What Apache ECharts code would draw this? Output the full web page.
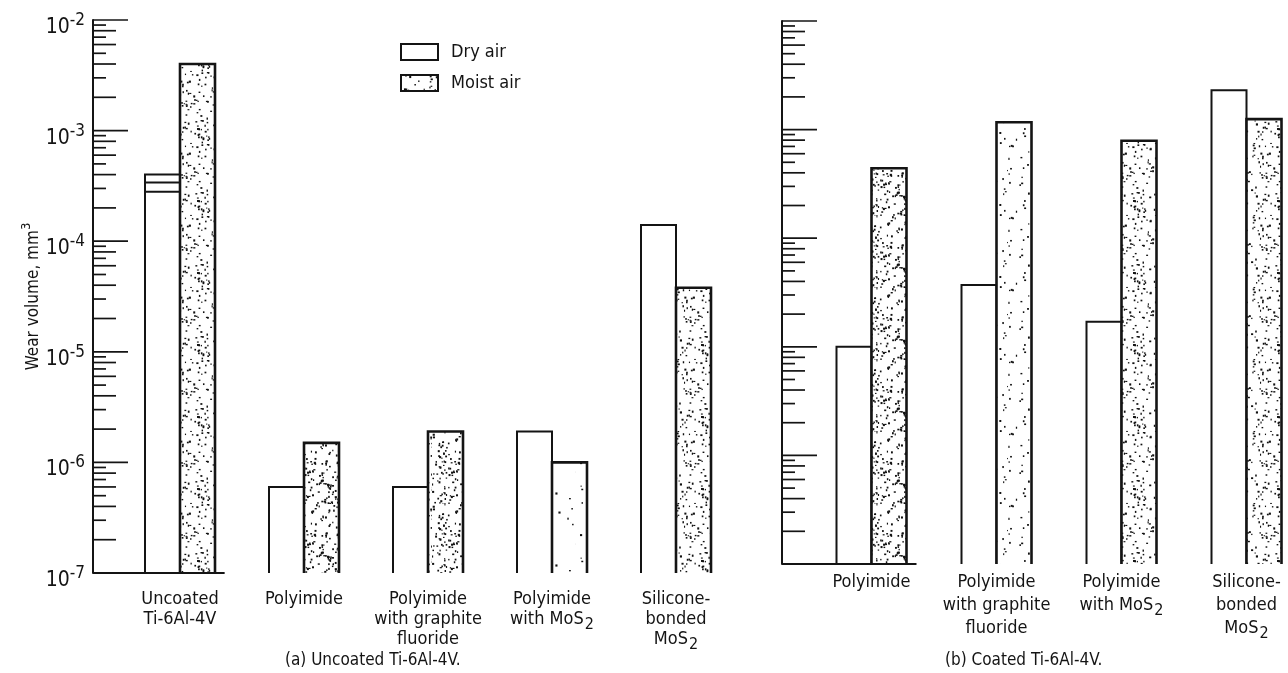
<!DOCTYPE html>
<html>
<head>
<meta charset="utf-8">
<title>Wear volume of Ti-6Al-4V pins</title>
<script src="https://cdn.jsdelivr.net/npm/echarts@6/dist/echarts.min.js"></script>
<style>
  html, body { margin: 0; padding: 0; background: #fff; }
  #chart { width: 1288px; height: 673px; }
</style>
</head>
<body>
<div id="chart"></div>
<script>
// ---- data -------------------------------------------------------------
// (a) uncoated Ti-6Al-4V discs
const categoriesA = ['Uncoated\nTi-6Al-4V', 'Polyimide', 'Polyimide\nwith graphite\nfluoride', 'Polyimide\nwith MoS2', 'Silicone-\nbonded\nMoS2'];
const dryA   = [4.0e-4, 6.0e-7, 6.0e-7, 1.9e-6, 1.4e-4];
const moistA = [4.0e-3, 1.5e-6, 1.9e-6, 1.0e-6, 3.8e-5];
// repeat runs in dry air on uncoated Ti-6Al-4V (category index, wear volume)
const dryRepeatsA = [[0, 3.4e-4], [0, 2.8e-4]];

// (b) coated Ti-6Al-4V discs
const categoriesB = ['Polyimide', 'Polyimide\nwith graphite\nfluoride', 'Polyimide\nwith MoS2', 'Silicone-\nbonded\nMoS2'];
const dryB   = [1.0e-5, 3.7e-5, 1.7e-5, 2.3e-3];
const moistB = [4.4e-4, 1.17e-3, 7.9e-4, 1.25e-3];

// axis range and the mantissas that carry a tick in each decade
const AXIS_MIN = 1e-7;
const AXIS_MAX = 1e-2;
const decadeExponents = [-7, -6, -5, -4, -3, -2];
const tickMantissas = [1, 2, 3, 4, 5, 6, 7, 8, 9];

// ---- styling helpers ---------------------------------------------------
const FONT = "'Liberation Sans Narrow', 'DejaVu Sans Condensed', 'Roboto Condensed', sans-serif";
const INK = '#141414';
const BAR_W = 35;

function mulberry32(a) {
  return function () {
    a |= 0; a = a + 0x6D2B79F5 | 0;
    let t = Math.imul(a ^ a >>> 15, 1 | a);
    t = t + Math.imul(t ^ t >>> 7, 61 | t) ^ t;
    return ((t ^ t >>> 14) >>> 0) / 4294967296;
  };
}

// stippled fill used for the moist-air bars
function stipple(count, seed) {
  const size = 72;
  const c = document.createElement('canvas');
  c.width = c.height = size;
  const g = c.getContext('2d');
  g.fillStyle = '#fff';
  g.fillRect(0, 0, size, size);
  g.fillStyle = '#111';
  const rnd = mulberry32(seed);
  for (let i = 0; i < count; i++) {
    const x = rnd() * size, y = rnd() * size;
    const w = 1.1 + rnd() * 1.1, h = 1.1 + rnd() * 1.1;
    g.fillRect(x, y, w, h);
  }
  return { image: c, repeat: 'repeat' };
}
const STIPPLE = {
  dense: stipple(240, 7),
  medium: stipple(150, 19),
  sparse: stipple(60, 31),
  thin: stipple(30, 43)
};
const moistTextureA = ['medium', 'dense', 'dense', 'thin', 'medium'];
const moistTextureB = ['dense', 'sparse', 'medium', 'medium'];

// tick values on the log axis (the minimum is drawn as the base line)
const tickValues = [];
decadeExponents.forEach(function (e) {
  if (e === -2) { tickValues.push([0, Math.pow(10, e)]); return; }
  tickMantissas.forEach(function (m) {
    if (e === -7 && m === 1) return;
    tickValues.push([0, m * Math.pow(10, e)]);
  });
});

// tick marks: long at decades, alternating lengths in between
function tickRenderer(axisGap) {
  return function (params, api) {
    const v = api.value(1);
    const cs = params.coordSys;
    const x0 = cs.x - axisGap;
    const y = api.coord([0, v])[1];
    const e = Math.floor(Math.log10(v) + 1e-9);
    const m = Math.round(v / Math.pow(10, e));
    const len = (m === 1 || m === 10) ? 35 : (m % 2 === 0 ? 23 : 13);
    return {
      type: 'line',
      shape: { x1: x0, y1: y, x2: x0 + len, y2: y },
      style: { stroke: INK, lineWidth: 1.7 }
    };
  };
}

// base line: runs from the axis to just past the first pair of bars
function baseRenderer(axisGap) {
  return function (params, api) {
    const cs = params.coordSys;
    const p = api.coord([0, api.value(1)]);
    const band = api.size([1, 0])[0];
    return {
      type: 'line',
      shape: { x1: cs.x - axisGap, y1: p[1], x2: p[0] + band * 0.36, y2: p[1] },
      style: { stroke: INK, lineWidth: 1.8 }
    };
  };
}

// open-bottomed bar rising from the axis minimum; side -1 = left of centre
function barRenderer(side, fills, borderWidth) {
  return function (params, api) {
    const i = api.value(0);
    const top = api.coord([i, api.value(1)]);
    const base = api.coord([i, AXIS_MIN]);
    const x = side < 0 ? top[0] - BAR_W : top[0];
    const fill = fills ? fills[params.dataIndex] : '#fff';
    return {
      type: 'group',
      children: [
        { type: 'rect', shape: { x: x, y: top[1], width: BAR_W, height: base[1] - top[1] },
          style: { fill: fill, stroke: null } },
        { type: 'polyline',
          shape: { points: [[x, base[1]], [x, top[1]], [x + BAR_W, top[1]], [x + BAR_W, base[1]]] },
          style: { fill: null, stroke: INK, lineWidth: borderWidth } }
      ]
    };
  };
}

// short horizontal strokes across the dry-air bar for repeat runs
function repeatRenderer(params, api) {
  const p = api.coord([api.value(0), api.value(1)]);
  return {
    type: 'line',
    shape: { x1: p[0] - BAR_W, y1: p[1], x2: p[0], y2: p[1] },
    style: { stroke: INK, lineWidth: 2 }
  };
}

function catLabel(name) {
  return name.split('\n').map(function (line) {
    const m = line.match(/^(.*MoS)2$/);
    return m ? '{t|' + m[1] + '}{sub|2}' : '{t|' + line + '}';
  }).join('\n');
}

function catAxis(gridIndex, data, margin, lineH) {
  return {
    type: 'category', gridIndex: gridIndex, data: data,
    axisLine: { show: false }, axisTick: { show: false }, splitLine: { show: false },
    axisLabel: {
      interval: 0, margin: margin, formatter: catLabel, color: INK,
      rich: {
        t: { fontFamily: FONT, fontSize: 18, lineHeight: lineH, verticalAlign: 'top', color: INK },
        sub: { fontFamily: FONT, fontSize: 16, lineHeight: lineH, padding: [7, 0, 0, 1], verticalAlign: 'top', color: INK }
      }
    }
  };
}

function logAxis(gridIndex, offset, withLabels) {
  const ax = {
    type: 'log', logBase: 10, gridIndex: gridIndex, min: AXIS_MIN, max: AXIS_MAX,
    offset: offset,
    axisLine: { show: true, lineStyle: { color: INK, width: 2 } },
    axisTick: { show: false }, minorTick: { show: false },
    splitLine: { show: false }, minorSplitLine: { show: false },
    axisLabel: { show: false }
  };
  if (withLabels) {
    ax.axisLabel = {
      show: true, margin: 8, color: INK,
      formatter: function (v) {
        const e = Math.round(Math.log10(v));
        return '{b|10}{s|' + e + '}';
      },
      rich: {
        b: { fontFamily: FONT, fontSize: 21, lineHeight: 22, padding: [8, 0, 0, 0], verticalAlign: 'top', color: INK },
        s: { fontFamily: FONT, fontSize: 17, lineHeight: 18, padding: [3, 0, 0, 0], verticalAlign: 'top', color: INK }
      }
    };
    ax.name = '{n|Wear volume, mm}{s|3}';
    ax.nameLocation = 'middle';
    ax.nameGap = 50;
    ax.nameTextStyle = {
      rich: {
        n: { fontFamily: FONT, fontSize: 17, lineHeight: 22, verticalAlign: 'bottom', color: INK },
        s: { fontFamily: FONT, fontSize: 13, lineHeight: 22, verticalAlign: 'top', color: INK }
      }
    };
  }
  return ax;
}

function pairs(values) {
  return values.map(function (v, i) { return [i, v]; });
}
function textures(names) {
  return names.map(function (n) { return STIPPLE[n]; });
}

function barSeries(name, gridIndex, values, side, fills, borderWidth) {
  return {
    name: name, type: 'custom', xAxisIndex: gridIndex, yAxisIndex: gridIndex,
    data: pairs(values), encode: { x: 0, y: 1 },
    itemStyle: fills ? { color: STIPPLE.medium, borderColor: INK, borderWidth: 2 }
                     : { color: '#fff', borderColor: INK, borderWidth: 2 },
    renderItem: barRenderer(side, fills, borderWidth), clip: false
  };
}

const option = {
  animation: false,
  backgroundColor: '#fff',
  textStyle: { fontFamily: FONT, color: INK },
  legend: {
    data: ['Dry air', 'Moist air'],
    orient: 'vertical', left: 400, top: 43, padding: 0,
    itemWidth: 37, itemHeight: 16, itemGap: 13, icon: 'rect',
    selectedMode: false,
    itemStyle: { borderColor: INK, borderWidth: 2 },
    textStyle: { fontFamily: FONT, fontSize: 18, color: INK, padding: [0, 0, 0, 8] }
  },
  grid: [
    { left: 118, top: 20, width: 620, height: 553, outerBoundsMode: 'none', containLabel: false },
    { left: 809, top: 21, width: 500, height: 543, outerBoundsMode: 'none', containLabel: false }
  ],
  xAxis: [catAxis(0, categoriesA, 17, 20), catAxis(1, categoriesB, 9, 23)],
  yAxis: [logAxis(0, 25, true), logAxis(1, 27, false)],
  graphic: [
    { type: 'text', left: 361 - 76, top: 652, style: { text: '(a) Uncoated Ti-6Al-4V.', font: '17px ' + FONT, fill: INK } },
    { type: 'text', left: 1024 - 79, top: 652, style: { text: '(b) Coated Ti-6Al-4V.', font: '17px ' + FONT, fill: INK } }
  ],
  series: [
    barSeries('Dry air', 0, dryA, -1, null, 2),
    barSeries('Moist air', 0, moistA, 1, textures(moistTextureA), 2.6),
    barSeries('Dry air', 1, dryB, -1, null, 2),
    barSeries('Moist air', 1, moistB, 1, textures(moistTextureB), 2.6),
    { name: 'Dry air repeats', type: 'custom', xAxisIndex: 0, yAxisIndex: 0, data: dryRepeatsA,
      encode: { x: 0, y: 1 }, renderItem: repeatRenderer, z: 5, silent: true },
    { name: 'ticks a', type: 'custom', xAxisIndex: 0, yAxisIndex: 0, data: tickValues,
      renderItem: tickRenderer(25), clip: false, silent: true },
    { name: 'ticks b', type: 'custom', xAxisIndex: 1, yAxisIndex: 1, data: tickValues,
      renderItem: tickRenderer(27), clip: false, silent: true },
    { name: 'base a', type: 'custom', xAxisIndex: 0, yAxisIndex: 0, data: [[0, AXIS_MIN]],
      renderItem: baseRenderer(25), clip: false, silent: true },
    { name: 'base b', type: 'custom', xAxisIndex: 1, yAxisIndex: 1, data: [[0, AXIS_MIN]],
      renderItem: baseRenderer(27), clip: false, silent: true }
  ]
};

const chart = echarts.init(document.getElementById('chart'), null, { renderer: 'canvas' });
chart.setOption(option);
</script>
</body>
</html>
